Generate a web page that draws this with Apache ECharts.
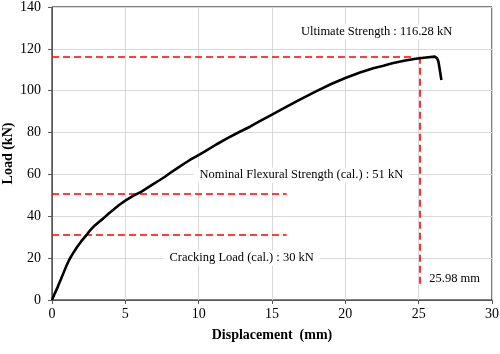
<!DOCTYPE html>
<html>
<head>
<meta charset="utf-8">
<script src="https://cdn.jsdelivr.net/npm/echarts@6/dist/echarts.min.js"></script>
<style>
    html, body { margin: 0; padding: 0; background: #fff; }
    #chart { width: 500px; height: 354px; }
</style>
</head>
<body>
<div id="chart"></div>
<script>
// 荷载-位移曲线 (displacement mm, load kN)
var curve = [
    [0, 0], [0.2, 3.3], [0.4, 6.4], [0.6, 9.8], [0.8, 13.2], [1.0, 16.6], [1.2, 19.6],
    [1.45, 22.5], [1.7, 25.2], [2.0, 28.1], [2.35, 31], [2.6, 33.3], [2.9, 35.5],
    [3.2, 37.3], [3.5, 39], [3.85, 41.2], [4.2, 43.2], [4.6, 45.5], [5, 47.5],
    [5.5, 49.6], [6.1, 51.8], [6.5, 53.6], [6.9, 55.4], [7.3, 57.1], [7.7, 58.9],
    [8.1, 60.9], [8.5, 62.8], [9.0, 65.1], [9.4, 66.9], [9.9, 68.9], [10.4, 70.9],
    [11.2, 74.3], [12, 77.5], [12.8, 80.4], [13.5, 82.8], [14.2, 85.6], [15, 88.6],
    [15.75, 91.4], [16.8, 95.4], [18, 99.7], [19, 103.1], [20, 106.1], [21, 108.7],
    [21.9, 110.7], [22.6, 111.9], [23.2, 113.1], [24, 114.3], [24.8, 115.3],
    [25.5, 115.9], [26.1, 116.3], [26.25, 115.6], [26.35, 113.8], [26.45, 109.5],
    [26.55, 105.1]
];
var ultimateLoad = 116.28;
var ultimateDisp = 25.07;
var nominalLoad = 51;
var crackLoad = 31;
var xTicks = [0, 30, 5];
var yTicks = [0, 140, 20];

var labelTexts = [
    { name: "Ultimate Strength : 116.28 kN", coord: [22.13, 128] },
    { name: "Nominal Flexural Strength (cal.) : 51 kN", coord: [17.0, 59.7] },
    { name: "Cracking Load (cal.) : 30 kN", coord: [12.93, 20.1] },
    { name: "25.98 mm", coord: [27.45, 10] }
];

var font = "'Liberation Serif', 'Times New Roman', serif";
var myChart = echarts.init(document.getElementById("chart"));

var option = {
    animation: false,
    grid: {
        left: 52,
        right: 8,
        top: 7,
        bottom: 54,
        containLabel: false,
        outerBoundsMode: "none",
        show: true,
        borderColor: "#000",
        borderWidth: 1
    },
    xAxis: {
        type: "value",
        min: xTicks[0],
        max: xTicks[1],
        interval: xTicks[2],
        name: "Displacement  (mm)",
        nameLocation: "middle",
        nameGap: 28,
        nameMoveOverlap: false,
        nameTextStyle: { fontFamily: font, fontSize: 14, fontWeight: "bold", color: "#000" },
        axisLine: { lineStyle: { color: "#595959", width: 1 } },
        axisTick: { show: true, inside: false, length: 4, lineStyle: { color: "#595959" } },
        axisLabel: { fontFamily: font, fontSize: 14, color: "#000", margin: 7 },
        splitLine: { show: true, lineStyle: { color: "#d9d9d9" } }
    },
    yAxis: {
        type: "value",
        min: yTicks[0],
        max: yTicks[1],
        interval: yTicks[2],
        name: "Load (kN)",
        nameLocation: "middle",
        nameGap: 37,
        nameMoveOverlap: false,
        nameTextStyle: { fontFamily: font, fontSize: 14, fontWeight: "bold", color: "#000" },
        axisLine: { show: true, lineStyle: { color: "#595959", width: 1 } },
        axisTick: { show: true, inside: false, length: 4, lineStyle: { color: "#595959" } },
        axisLabel: { fontFamily: font, fontSize: 14, color: "#000", margin: 11 },
        splitLine: { show: true, lineStyle: { color: "#d9d9d9" } }
    },
    series: [
        {
            type: "line",
            data: curve,
            symbol: "none",
            smooth: false,
            z: 5,
            lineStyle: { color: "#000", width: 2.6 },
            markLine: {
                silent: true,
                symbol: "none",
                z: 3,
                label: { show: false },
                lineStyle: { color: "#ff0000", type: [7, 4], width: 1.6 },
                data: [
                    [{ coord: [0, ultimateLoad] }, { coord: [24.5, ultimateLoad] }],
                    [{ coord: [ultimateDisp, ultimateLoad] }, { coord: [ultimateDisp, 6] }],
                    [{ coord: [0, nominalLoad] }, { coord: [16, nominalLoad] }],
                    [{ coord: [0, crackLoad] }, { coord: [16, crackLoad] }]
                ]
            },
            markPoint: {
                silent: true,
                symbol: "rect",
                symbolSize: 0,
                z: 4,
                label: {
                    show: true,
                    position: "inside",
                    formatter: "{b}",
                    fontFamily: font,
                    fontSize: 12.5,
                    color: "#000",
                    backgroundColor: "#fff",
                    padding: [1, 6]
                },
                data: labelTexts
            }
        }
    ]
};

myChart.setOption(option);
</script>
</body>
</html>
